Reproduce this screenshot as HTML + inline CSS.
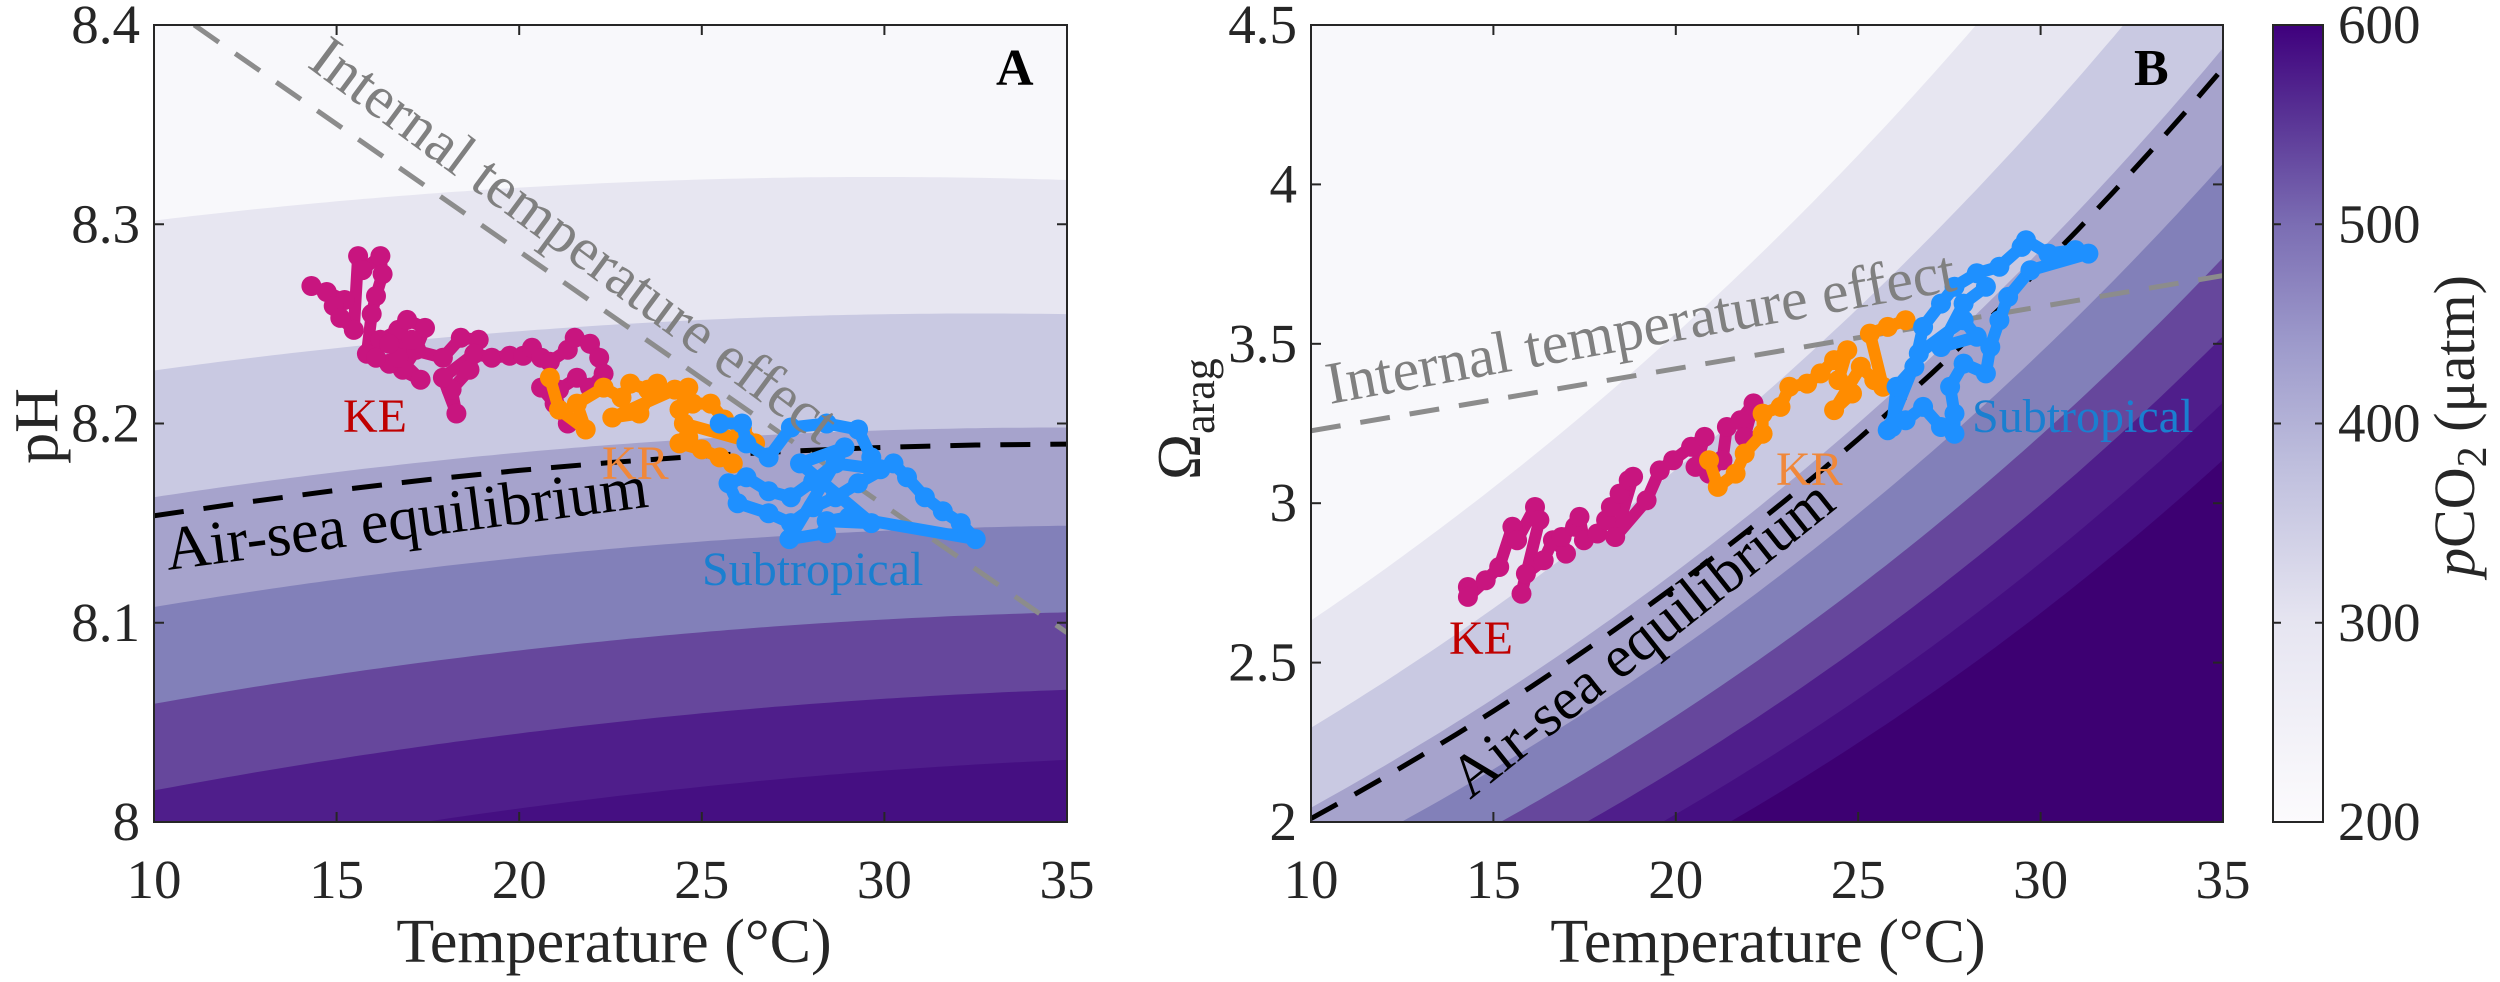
<!DOCTYPE html>
<html><head><meta charset="utf-8"><style>
html,body{margin:0;padding:0;background:#fff;}
svg{display:block;font-family:"Liberation Serif","Times New Roman",serif;}
text{font-family:"Liberation Serif","Times New Roman",serif;}
</style></head><body>
<svg id="fig" width="2500" height="982" viewBox="0 0 2500 982" xmlns="http://www.w3.org/2000/svg">
<defs>
<clipPath id="clipA"><rect x="154" y="25" width="913" height="797"/></clipPath>
<clipPath id="clipB"><rect x="1311" y="25" width="912" height="797"/></clipPath>
<linearGradient id="cbGrad" x1="0" y1="1" x2="0" y2="0">
<stop offset="0" stop-color="#fcfbfd"/><stop offset="0.25" stop-color="#e6e5f1"/><stop offset="0.45" stop-color="#bebedd"/><stop offset="0.6" stop-color="#9d9acb"/><stop offset="0.75" stop-color="#7b6db3"/><stop offset="0.88" stop-color="#5a3596"/><stop offset="1" stop-color="#3f007d"/>
</linearGradient>
</defs>
<g id="panelA"></g>
<g id="panelB"></g>
<g id="cbar"></g>
</svg>
<script>
// ---- data ----
const levels = [250,300,350,400,450,500,550,600];
const bandColors = ["#f8f8fb","#e7e6f1","#c9c9e2","#a6a3cc","#8280b9","#66479c","#4f1e8b","#450f82","#3d0072"];
const eqPCO2 = 358;
const xTicks = [10,15,20,25,30,35];
const phTicks = [8,8.1,8.2,8.3,8.4];
const phTickLabels = ["8","8.1","8.2","8.3","8.4"];
const omTicks = [2,2.5,3,3.5,4,4.5];
const omTickLabels = ["2","2.5","3","3.5","4","4.5"];
const cbTicks = [200,300,400,500,600];
const intA = [[11.1,8.4],[35,8.095]];
const intB = [[10,3.227],[35,3.714]];

const keTempA = [14.31,14.73,15.22,14.92,15.1,15.47,15.59,15.71,16.2,16.26,16.08,15.96,15.83,16.2,16.69,16.93,17.42,17.18,16.81,16.44,16.08,17.3,16.69,17.06,16.44,17.91,18.4,18.89,18.64,18.15,18.28,17.91,18.77,19.25,19.74,20.11,20.35,20.6,20.84,21.33,21.52,21.94,22.19,22.31,21.94,21.58,21.09,20.6,20.97,21.33];
const kePHA   = [8.269,8.266,8.262,8.259,8.253,8.247,8.284,8.277,8.284,8.275,8.264,8.255,8.235,8.242,8.247,8.252,8.248,8.237,8.227,8.23,8.233,8.222,8.233,8.242,8.24,8.233,8.243,8.242,8.227,8.217,8.205,8.223,8.235,8.233,8.234,8.234,8.238,8.233,8.231,8.237,8.243,8.24,8.233,8.225,8.218,8.223,8.217,8.218,8.21,8.2];
const krTempA = [20.84,21.09,21.82,21.58,22.31,22.8,23.04,23.53,23.78,23.29,22.55,24.26,24.63,24.39,24.75,25.24,25.61,26.1,26.46,24.51,24.63,24.39,25.0,25.49,25.85];
const krPHA   = [8.223,8.207,8.197,8.21,8.218,8.213,8.22,8.217,8.22,8.205,8.203,8.217,8.218,8.207,8.21,8.21,8.202,8.197,8.19,8.2,8.193,8.19,8.187,8.183,8.18];
const stTempA = [25.49,26.1,26.22,26.83,27.44,28.42,29.28,29.64,29.89,28.66,28.05,27.44,26.83,26.22,25.73,25.98,26.83,27.44,28.05,28.66,29.28,30.25,30.62,31.11,31.6,32.09,32.5,29.03,28.42,29.64,27.69,28.91,27.4,28.4];
const stPHA   = [8.2,8.2,8.19,8.183,8.198,8.2,8.197,8.183,8.177,8.18,8.171,8.163,8.166,8.173,8.17,8.16,8.155,8.15,8.158,8.163,8.17,8.18,8.173,8.163,8.156,8.15,8.142,8.153,8.151,8.15,8.18,8.188,8.142,8.145];

const keTempB = [14.3,14.3,14.79,15.16,15.52,15.65,16.14,16.26,15.77,15.89,16.38,16.63,16.99,16.87,17.24,17.36,17.48,17.85,18.09,18.22,18.46,18.71,18.83,18.34,19.2,19.56,19.93,20.42,20.79,20.54,20.91,21.28,21.4,21.77,22.13,21.89];
const keOmB   = [2.737,2.706,2.758,2.8,2.926,2.884,2.988,2.947,2.716,2.779,2.821,2.884,2.842,2.894,2.926,2.957,2.884,2.905,2.947,2.988,3.03,3.072,3.083,2.894,3.009,3.103,3.135,3.177,3.208,3.114,3.093,3.135,3.239,3.26,3.313,3.208];
const krTempB = [20.91,21.15,21.64,21.89,22.38,22.38,22.87,23.11,23.6,23.97,24.34,24.7,24.46,24.83,24.34,25.07,25.44,25.68,25.32,25.81,26.3];
const krOmB   = [3.135,3.051,3.093,3.156,3.218,3.281,3.302,3.365,3.375,3.407,3.449,3.48,3.386,3.344,3.292,3.428,3.386,3.365,3.532,3.553,3.574];
const stTempB = [25.93,26.05,26.54,26.78,27.27,27.64,28.25,28.87,29.48,29.6,30.21,30.95,31.31,29.72,29.11,28.87,28.62,28.5,27.89,27.52,27.64,27.64,27.27,26.78,26.3,25.81,26.66,27.89,28.25,27.27,27.89,28.5];
const stOmB   = [3.239,3.365,3.428,3.553,3.626,3.679,3.721,3.742,3.804,3.825,3.783,3.794,3.783,3.731,3.647,3.574,3.49,3.407,3.438,3.365,3.281,3.218,3.239,3.302,3.26,3.229,3.47,3.574,3.522,3.49,3.626,3.679];

// ---- helpers ----
const NS="http://www.w3.org/2000/svg";
const FF='"Liberation Serif", "Times New Roman", serif';
function mk(tag, parent, attrs){const e=document.createElementNS(NS,tag);for(const k in attrs)e.setAttribute(k,attrs[k]);parent.appendChild(e);return e;}
const A={x0:154,x1:1067,y0:822,y1:25,t0:10,t1:35,v0:8.0,v1:8.4};
const B={x0:1311,x1:2223,y0:822,y1:25,t0:10,t1:35,v0:2.0,v1:4.5};
function sx(ax,t){return ax.x0+(t-ax.t0)/(ax.t1-ax.t0)*(ax.x1-ax.x0);}
function sy(ax,v){return ax.y0+(v-ax.v0)/(ax.v1-ax.v0)*(ax.y1-ax.y0);}
function phBound(T,p){const t=(T-10)/25;const f=0.035*(2*t-t*t);const k=0.95-0.10*t;return 8.163+f-k*Math.log10(p/350);}
function omBound(T,p){const t=(T-10)/25;const m=0.75-0.11*t;return 2.045*Math.exp(0.0309*(T-10))*Math.pow(350/p,m);}

function drawContours(ax,g,fn,clip){
  const cg=mk('g',g,{'clip-path':'url(#'+clip+')'});
  const bg=mk('rect',cg,{x:ax.x0,y:ax.y1,width:ax.x1-ax.x0,height:ax.y0-ax.y1,fill:bandColors[0]});
  
  
  levels.forEach((p,i)=>{
    let d='';
    for(let T=ax.t0;T<=ax.t1+0.001;T+=0.25){const X=sx(ax,T),Y=sy(ax,fn(T,p));d+=(d?'L':'M')+X.toFixed(1)+','+Y.toFixed(1);}
    d+='L'+(ax.x1+5)+','+(ax.y0+5)+'L'+(ax.x0-5)+','+(ax.y0+5)+'Z';
    const pa=mk('path',cg,{d:d,fill:bandColors[i+1]});
    
    
  });
  return cg;
}
function dashed(ax,g,pts,color,name,w){
  let d='';pts.forEach((q,i)=>{d+=(i?'L':'M')+sx(ax,q[0]).toFixed(1)+','+sy(ax,q[1]).toFixed(1);});
  const l=mk('path',g,{d:d,fill:'none',stroke:color,'stroke-width':w,'stroke-dasharray':'30,20'});
  
  
}
function scatter(ax,g,ts,vs,color,name){
  const sg=mk('g',g,{});
  
  
  let d='';ts.forEach((t,i)=>{d+=(i?'L':'M')+sx(ax,t).toFixed(1)+','+sy(ax,vs[i]).toFixed(1);});
  mk('path',sg,{d:d,fill:'none',stroke:color,'stroke-width':12,'stroke-linejoin':'round','stroke-linecap':'round'});
  ts.forEach((t,i)=>{
    const c=mk('circle',sg,{cx:sx(ax,t).toFixed(1),cy:sy(ax,vs[i]).toFixed(1),r:10,fill:color});
    
    
  });
}
function txt(g,x,y,s,attrs,name){
  const e=mk('text',g,Object.assign({x:x,y:y,'font-family':FF},attrs));e.textContent=s;
  
  
  return e;
}
function axesFrame(ax,g,yt,ytl,nm){
  mk('rect',g,{x:ax.x0,y:ax.y1,width:ax.x1-ax.x0,height:ax.y0-ax.y1,fill:'none',stroke:'#262626','stroke-width':2});
  xTicks.forEach(t=>{const X=sx(ax,t);
    mk('line',g,{x1:X,y1:ax.y0,x2:X,y2:ax.y0-10,stroke:'#262626','stroke-width':2});
    mk('line',g,{x1:X,y1:ax.y1,x2:X,y2:ax.y1+10,stroke:'#262626','stroke-width':2});
    txt(g,X,898,String(t),{'font-size':55,'text-anchor':'middle',fill:'#262626'},nm+'-x-tick-label');
  });
  yt.forEach((v,i)=>{const Y=sy(ax,v);
    mk('line',g,{x1:ax.x0,y1:Y,x2:ax.x0+10,y2:Y,stroke:'#262626','stroke-width':2});
    mk('line',g,{x1:ax.x1,y1:Y,x2:ax.x1-10,y2:Y,stroke:'#262626','stroke-width':2});
    txt(g,ax.x0-14,Y+18,ytl[i],{'font-size':55,'text-anchor':'end',fill:'#262626'},nm+'-y-tick-label');
  });
}

// ---- panel A ----
const gA=document.getElementById('panelA');
const cA=drawContours(A,gA,phBound,'clipA');
const eqA=[];for(let T=10;T<=35.001;T+=2.5)eqA.push([T,phBound(T,eqPCO2)]);
dashed(A,cA,eqA,'#000','air-sea-equilibrium-line-a',5);
dashed(A,cA,intA,'#8c8c8c','internal-temperature-line-a',5);
scatter(A,cA,keTempA,kePHA,'#c8157f','ke-series-a');
scatter(A,cA,krTempA,krPHA,'#ff8c00','kr-series-a');
scatter(A,cA,stTempA,stPHA,'#1e90ff','subtropical-series-a');
axesFrame(A,gA,phTicks,phTickLabels,'panel-a');
txt(gA,0,0,'Internal temperature effect',{'font-size':60,fill:'#808080',transform:'translate(306,66) rotate(36.5)'},'internal-temperature-label-a');
txt(gA,0,0,'Air-sea equilibrium',{'font-size':62,fill:'#000',transform:'translate(168,570) rotate(-7.5)'},'air-sea-equilibrium-label-a');
txt(gA,343,432,'KE',{'font-size':48,fill:'#c00000'},'ke-label-a');
txt(gA,602,479,'KR',{'font-size':48,fill:'#f0883a'},'kr-label-a');
txt(gA,702,585,'Subtropical',{'font-size':48,fill:'#1a7fd0'},'subtropical-label-a');
txt(gA,996,85,'A',{'font-size':52,'font-weight':'bold',fill:'#000'},'panel-label-a');
txt(gA,614,962,'Temperature (°C)',{'font-size':62,'text-anchor':'middle',fill:'#262626'},'x-axis-title-a');
txt(gA,0,0,'pH',{'font-size':62,'text-anchor':'middle',fill:'#262626',transform:'translate(57,426) rotate(-90)'},'y-axis-title-a');

// ---- panel B ----
const gB=document.getElementById('panelB');
const cB=drawContours(B,gB,omBound,'clipB');
const eqB=[];for(let T=10;T<=35.001;T+=1)eqB.push([T,omBound(T,eqPCO2)]);
dashed(B,cB,eqB,'#000','air-sea-equilibrium-line-b',5);
dashed(B,cB,intB,'#8c8c8c','internal-temperature-line-b',5);
scatter(B,cB,keTempB,keOmB,'#c8157f','ke-series-b');
scatter(B,cB,krTempB,krOmB,'#ff8c00','kr-series-b');
scatter(B,cB,stTempB,stOmB,'#1e90ff','subtropical-series-b');
axesFrame(B,gB,omTicks,omTickLabels,'panel-b');
txt(gB,0,0,'Internal temperature effect',{'font-size':60,fill:'#808080',transform:'translate(1330,404) rotate(-10.3)'},'internal-temperature-label-b');
txt(gB,0,0,'Air-sea equilibrium',{'font-size':60,fill:'#000',transform:'translate(1470,800) rotate(-38.5)'},'air-sea-equilibrium-label-b');
txt(gB,1449,654,'KE',{'font-size':48,fill:'#c00000'},'ke-label-b');
txt(gB,1776,485,'KR',{'font-size':48,fill:'#f0883a'},'kr-label-b');
txt(gB,1972,432,'Subtropical',{'font-size':48,fill:'#1a7fd0'},'subtropical-label-b');
txt(gB,2134,85,'B',{'font-size':52,'font-weight':'bold',fill:'#000'},'panel-label-b');
txt(gB,1768,962,'Temperature (°C)',{'font-size':62,'text-anchor':'middle',fill:'#262626'},'x-axis-title-b');
const om=txt(gB,0,0,'Ω',{'font-size':62,fill:'#262626',transform:'translate(1200,480) rotate(-90)'},'y-axis-title-b');
const sub=mk('tspan',om,{'font-size':44,dy:14});sub.textContent='arag';

// ---- colorbar ----
const gC=document.getElementById('cbar');
mk('rect',gC,{x:2273,y:25,width:50,height:797,fill:'url(#cbGrad)',stroke:'#262626','stroke-width':2});
cbTicks.forEach(v=>{const Y=822-(v-200)/400*797;
  mk('line',gC,{x1:2273,y1:Y,x2:2281,y2:Y,stroke:'#262626','stroke-width':2});
  mk('line',gC,{x1:2323,y1:Y,x2:2315,y2:Y,stroke:'#262626','stroke-width':2});
  txt(gC,2338,Y+18,String(v),{'font-size':55,fill:'#262626'},'colorbar-tick-label');
});
const ct=txt(gC,0,0,'',{'font-size':58,'text-anchor':'middle',fill:'#262626',transform:'translate(2474,426) rotate(-90)'},'colorbar-title');
const t1=mk('tspan',ct,{'font-style':'italic'});t1.textContent='p';
const t2=mk('tspan',ct,{});t2.textContent='CO';
const t3=mk('tspan',ct,{'font-size':42,dy:12});t3.textContent='2';
const t4=mk('tspan',ct,{dy:-12});t4.textContent=' (μatm)';
</script>
</body></html>
